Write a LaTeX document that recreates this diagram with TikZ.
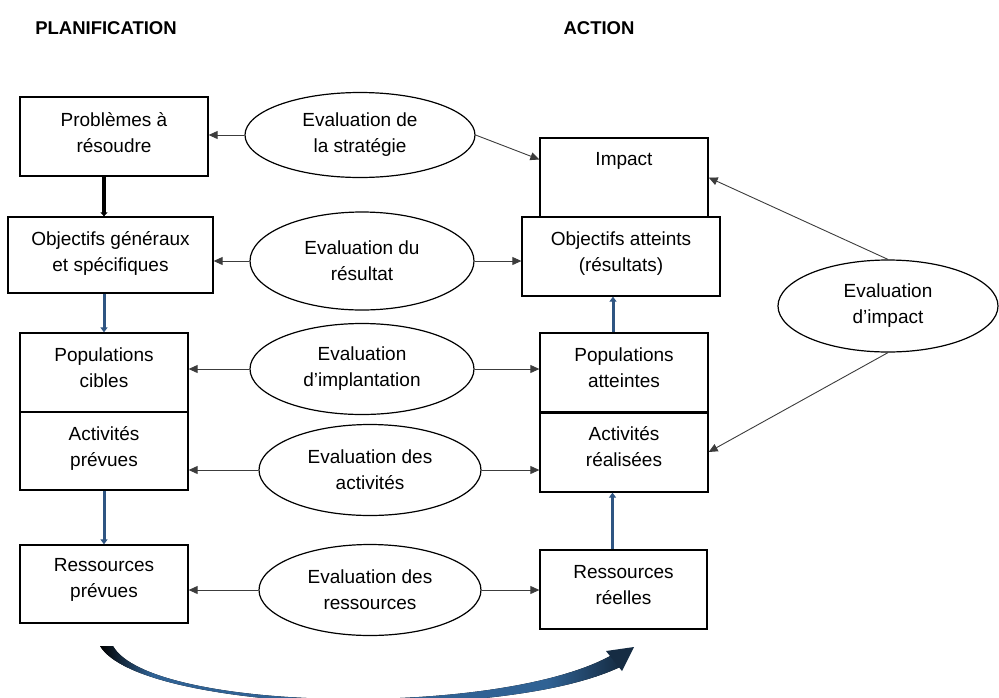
\documentclass[tikz,border=0pt]{standalone}
\usepackage{fontspec}
\setmainfont{Liberation Sans}
\usetikzlibrary{arrows.meta,shapes.geometric}
\definecolor{steel}{RGB}{47,85,130}
\definecolor{curveblue}{RGB}{48,98,148}
\definecolor{thinc}{RGB}{60,60,60}
\pgfdeclarehorizontalshading{swoosh}{100bp}{color(0bp)=(black); color(25bp)=(black); color(30bp)=(curveblue); color(68bp)=(curveblue); color(75bp)=(black!55!curveblue); color(100bp)=(black!55!curveblue)}
\begin{document}
\begin{tikzpicture}[x=1pt,y=-1pt,
  box/.style={draw=black,line width=1.3pt,inner sep=0pt},
  txt/.style={font=\fontsize{19}{26}\selectfont,align=center,inner sep=0pt,anchor=north},
  ell/.style={draw=black,ellipse,line width=1.2pt,inner sep=0pt,font=\fontsize{19}{26}\selectfont,align=center},
  title/.style={font=\fontsize{18.5}{22}\selectfont\bfseries,inner sep=0pt},
  thinarr/.style={draw=thinc,line width=0.9pt,-{Triangle[length=9pt,width=8pt]}},
  bluearr/.style={draw=steel,line width=3pt,-{Triangle[length=5pt,width=7pt]}},
  blackarr/.style={draw=black,line width=4pt,-{Triangle[length=4pt,width=7pt]}}]
\useasboundingbox (0,0) rectangle (999,697);

% titles
\node[title] (tplan) at (106,28) {PLANIFICATION};
\node[title] (tact) at (599,28) {ACTION};

% left column boxes
\node[box,minimum width=188pt,minimum height=79pt] (prob) at (114,136.5) {};
\node[box,minimum width=205pt,minimum height=76pt] (objg) at (110.5,255) {};
\node[box,minimum width=168pt,minimum height=79pt] (popc) at (104,372.5) {};
\node[box,minimum width=168pt,minimum height=78pt] (actp) at (104,451) {};
\node[box,minimum width=168pt,minimum height=78pt] (resp) at (104,584) {};

% right column boxes
\node[box,minimum width=168pt,minimum height=79pt] (impact) at (624,177.5) {};
\node[box,minimum width=198pt,minimum height=79pt] (obja) at (621,256.5) {};
\node[box,minimum width=168pt,minimum height=79pt] (popa) at (624,372.5) {};
\node[box,minimum width=168pt,minimum height=80pt] (actr) at (624,452) {};
\node[box,minimum width=167pt,minimum height=79pt] (resr) at (623.5,589.5) {};
\draw[line width=3pt] (popa.south west) -- (popa.south east);

% box texts
\node[txt] (probt) at ([yshift=-12pt]prob.north) {\strut Problèmes à\\résoudre};
\node[txt] (objgt) at ([yshift=-11pt]objg.north) {\strut Objectifs généraux\\et spécifiques};
\node[txt] (popct) at ([yshift=-11pt]popc.north) {\strut Populations\\cibles};
\node[txt] (actpt) at ([yshift=-11pt]actp.north) {\strut Activités\\prévues};
\node[txt] (respt) at ([yshift=-9pt]resp.north) {\strut Ressources\\prévues};
\node[txt] (impactt) at ([yshift=-10pt]impact.north) {\strut Impact};
\node[txt] (objat) at ([yshift=-11pt]obja.north) {\strut Objectifs atteints\\(résultats)};
\node[txt] (popat) at ([yshift=-11pt]popa.north) {\strut Populations\\atteintes};
\node[txt] (actrt) at ([yshift=-11pt]actr.north) {\strut Activités\\réalisées};
\node[txt] (resrt) at ([yshift=-11pt]resr.north) {\strut Ressources\\réelles};

% ellipses
\node[ell,minimum width=230pt,minimum height=85pt] (e1) at (360,135) {Evaluation de\\la stratégie};
\node[ell,minimum width=224pt,minimum height=98pt] (e2) at (362,261) {Evaluation du\\résultat};
\node[ell,minimum width=224pt,minimum height=91pt] (e3) at (362,369) {Evaluation\\d’implantation};
\node[ell,minimum width=222pt,minimum height=91pt] (e4) at (370,470) {Evaluation des\\activités};
\node[ell,minimum width=222pt,minimum height=91pt] (e5) at (370,590) {Evaluation des\\ressources};
\node[ell,minimum width=220pt,minimum height=92pt] (e6) at (888,306) {Evaluation\\d’impact};

% thin arrows
\draw[thinarr] (e1.west) -- (e1.west -| prob.east);
\draw[thinarr] (e1.east) -- (impact.168);
\draw[thinarr] (e2.west) -- (e2.west -| objg.east);
\draw[thinarr] (e2.east) -- (e2.east -| obja.west);
\draw[thinarr] (e3.west) -- (e3.west -| popc.east);
\draw[thinarr] (e3.east) -- (e3.east -| popa.west);
\draw[thinarr] (e4.west) -- (e4.west -| actp.east);
\draw[thinarr] (e4.east) -- (e4.east -| actr.west);
\draw[thinarr] (e5.west) -- (e5.west -| resp.east);
\draw[thinarr] (e5.east) -- (e5.east -| resr.west);
\draw[thinarr] (e6.north) -- (impact.east);
\draw[thinarr] (e6.south) -- (actr.east);

% vertical arrows
\draw[blackarr] (prob.south -| popc.north) -- (objg.north -| popc.north);
\draw[bluearr] (objg.south -| popc.north) -- (popc.north);
\draw[bluearr] (actp.south) -- (resp.north);
\coordinate (ra) at ([xshift=-11pt]popa.north);
\coordinate (rb) at ([xshift=-11pt]resr.north);
\draw[bluearr] (ra) -- (ra |- obja.south);
\draw[bluearr] (rb) -- (rb |- actr.south);

% big curved arrow
\coordinate (ce) at (634,647);
\fill[shading=swoosh]
  (100,646) .. controls (140,712) and (500,724) .. (620,667)
  -- (612,655) .. controls (500,718) and (150,712) .. (113,646) -- cycle;
\fill[black!55!curveblue] (ce) -- (606,651) -- (622,671) -- cycle;
\end{tikzpicture}
\end{document}
